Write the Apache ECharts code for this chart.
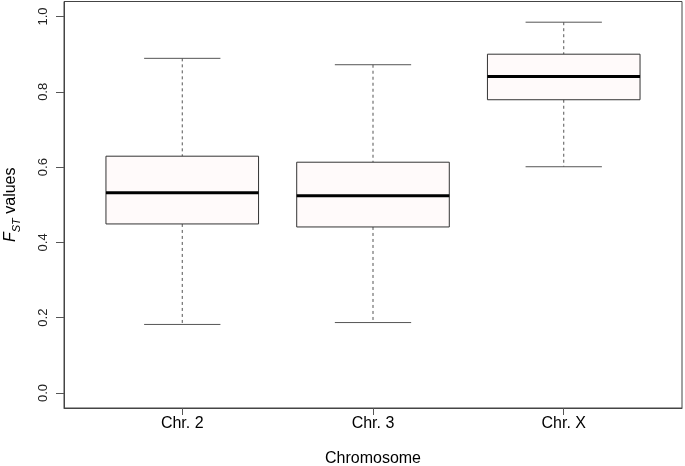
<!DOCTYPE html>
<html>
<head>
<meta charset="utf-8">
<script src="https://cdn.jsdelivr.net/npm/echarts@6/dist/echarts.min.js"></script>
<style>
  html, body { margin: 0; padding: 0; background: #fff; }
  #chart { width: 685px; height: 466px; }
</style>
</head>
<body>
<div id="chart"></div>
<script>
// 数据
var categories = ["Chr. 2", "Chr. 3", "Chr. X"];
var lowerWhisker = [0.182, 0.187, 0.601];
var q1 = [0.449, 0.441, 0.779];
var median = [0.532, 0.524, 0.841];
var q3 = [0.629, 0.613, 0.900];
var upperWhisker = [0.889, 0.872, 0.985];
var yTicks = [0, 0.2, 0.4, 0.6, 0.8, 1.0];

(function() {
  var myChart = echarts.init(document.getElementById("chart"));

  // 每个箱子: [位置, 下须, 下四分位, 中位数, 上四分位, 上须]
  var boxData = categories.map(function(name, i) {
    return [i + 1, lowerWhisker[i], q1[i], median[i], q3[i], upperWhisker[i]];
  });

  function renderBox(params, api) {
    var x = api.value(0);
    var unit = api.size([1, 0])[0];
    var half = unit * 0.4;     // 箱宽 0.8
    var capHalf = unit * 0.2;  // 须端横线 0.4
    var cx = api.coord([x, 0])[0];
    var yLo = api.coord([x, api.value(1)])[1];
    var yQ1 = api.coord([x, api.value(2)])[1];
    var yMed = api.coord([x, api.value(3)])[1];
    var yQ3 = api.coord([x, api.value(4)])[1];
    var yHi = api.coord([x, api.value(5)])[1];
    var whisker = { stroke: "#555", lineWidth: 1, lineDash: [3, 3] };
    var cap = { stroke: "#555", lineWidth: 1 };
    return {
      type: "group",
      children: [
        { type: "line", shape: { x1: cx, y1: yHi, x2: cx, y2: yQ3 }, style: whisker },
        { type: "line", shape: { x1: cx, y1: yQ1, x2: cx, y2: yLo }, style: whisker },
        { type: "line", shape: { x1: cx - capHalf, y1: yHi, x2: cx + capHalf, y2: yHi }, style: cap },
        { type: "line", shape: { x1: cx - capHalf, y1: yLo, x2: cx + capHalf, y2: yLo }, style: cap },
        {
          type: "rect",
          shape: { x: cx - half, y: yQ3, width: half * 2, height: yQ1 - yQ3 },
          style: { fill: "#fffafa", stroke: "#333", lineWidth: 1 }
        },
        // 中位数粗线
        { type: "line", shape: { x1: cx - half, y1: yMed, x2: cx + half, y2: yMed }, style: { stroke: "#000", lineWidth: 3 } }
      ]
    };
  }

  var option = {
    animation: false,
    grid: {
      left: 64,
      right: 3,
      top: 1.5,
      bottom: 58,
      containLabel: false,
      outerBoundsMode: "none",
      show: true,
      borderColor: "#444",
      borderWidth: 1
    },
    xAxis: {
      type: "value",
      min: 0.38,
      max: 3.62,
      name: "Chromosome",
      nameLocation: "middle",
      nameGap: 43,
      nameTextStyle: { fontFamily: "Liberation Sans", fontSize: 16, color: "#000" },
      // 轴线要显示，否则刻度不画
      axisLine: { show: true, onZero: false, lineStyle: { color: "#444" } },
      splitLine: { show: false },
      axisTick: {
        show: true,
        length: 7,
        lineStyle: { color: "#555", width: 1 },
        customValues: [1, 2, 3]
      },
      axisLabel: {
        customValues: [1, 2, 3],
        margin: 8,
        fontFamily: "Liberation Sans",
        fontSize: 16,
        color: "#000",
        formatter: function(v) { return categories[Math.round(v) - 1]; }
      }
    },
    yAxis: {
      type: "value",
      min: -0.04,
      max: 1.04,
      name: "{f|F}{s|ST}{v| values}",
      nameLocation: "middle",
      nameRotate: 90,
      nameGap: 42,
      nameTextStyle: {
        fontFamily: "Liberation Sans",
        fontSize: 16,
        color: "#000",
        rich: {
          f: { fontFamily: "Liberation Sans", fontSize: 16, fontStyle: "italic", lineHeight: 22, verticalAlign: "middle" },
          s: { fontFamily: "Liberation Sans", fontSize: 11, fontStyle: "italic", lineHeight: 11, verticalAlign: "bottom" },
          v: { fontFamily: "Liberation Sans", fontSize: 16, lineHeight: 22, verticalAlign: "middle" }
        }
      },
      axisLine: { show: true, onZero: false, lineStyle: { color: "#444" } },
      splitLine: { show: false },
      axisTick: {
        show: true,
        length: 8,
        lineStyle: { color: "#555", width: 1 },
        customValues: yTicks
      },
      axisLabel: {
        customValues: yTicks,
        rotate: 90,
        margin: 14,
        fontFamily: "Liberation Sans",
        fontSize: 13,
        color: "#222",
        formatter: function(v) { return v.toFixed(1); }
      }
    },
    series: [
      {
        type: "custom",
        renderItem: renderBox,
        encode: { x: 0, y: [1, 2, 3, 4, 5] },
        data: boxData
      }
    ]
  };

  myChart.setOption(option);
  window.addEventListener("resize", function() {
    myChart.resize();
  });
})();
</script>
</body>
</html>
